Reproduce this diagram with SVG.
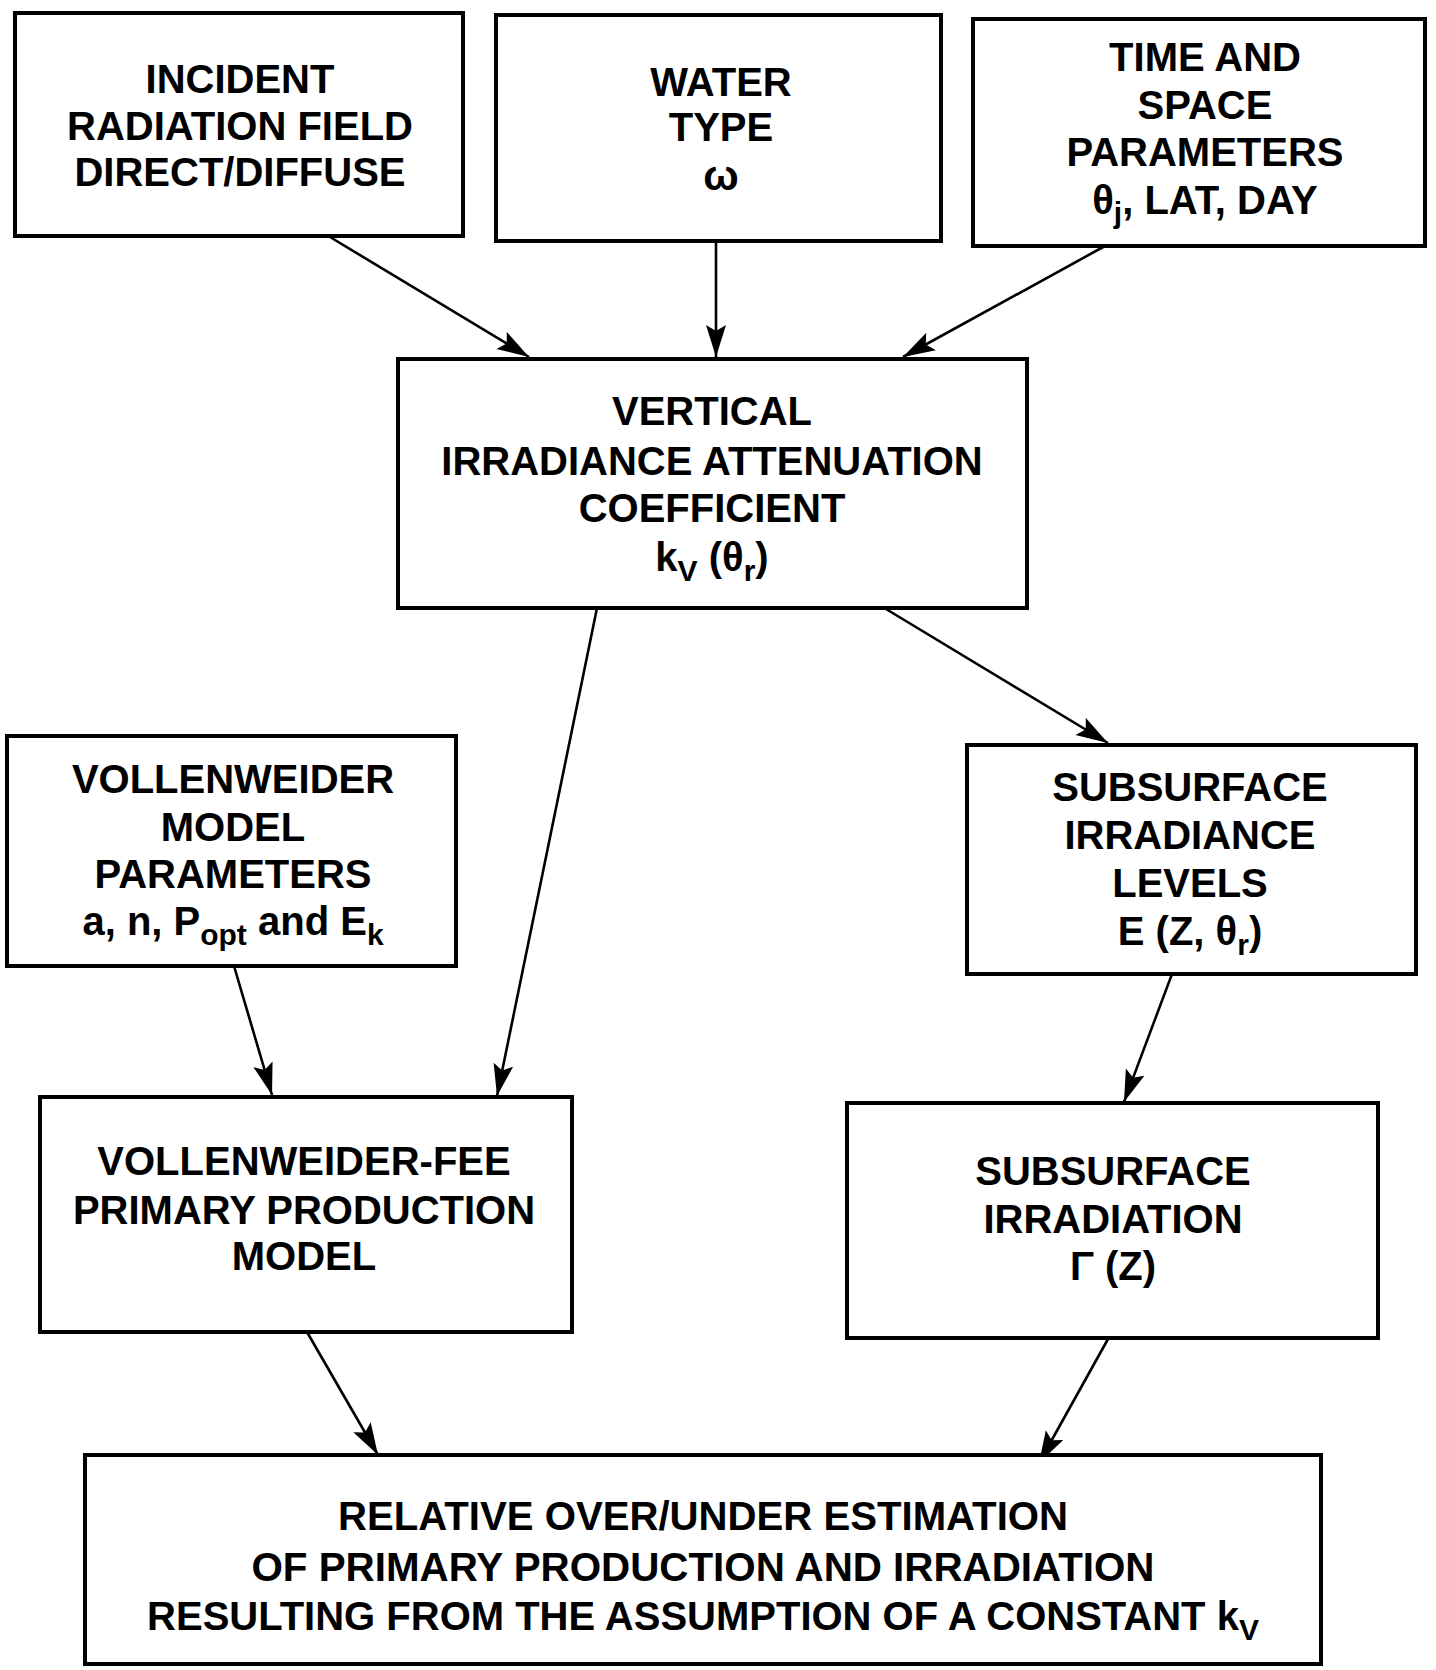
<svg xmlns="http://www.w3.org/2000/svg" width="1436" height="1670" viewBox="0 0 1436 1670">
<style>
.box{fill:#fff;stroke:#000;stroke-width:4}
.t{font-family:"Liberation Sans",Arial,sans-serif;font-weight:bold;font-size:40px;fill:#000;text-anchor:middle}
.c{stroke:#000;stroke-width:2.6;fill:none;marker-end:url(#ah)}
.s{font-size:30px}
</style>
<defs>
<marker id="ah" markerUnits="userSpaceOnUse" markerWidth="34" markerHeight="22" refX="32" refY="10" orient="auto">
<path d="M0,0 L32,10 L0,20 L6,10 Z" fill="#000"/>
</marker>
</defs>
<rect width="1436" height="1670" fill="#fff"/>
<g id="connectors">
<line class="c" x1="330" y1="237" x2="529" y2="357"/>
<line class="c" x1="716" y1="241" x2="716" y2="357"/>
<line class="c" x1="1105" y1="246" x2="903" y2="357"/>
<line class="c" x1="597" y1="608" x2="497" y2="1096"/>
<line class="c" x1="886" y1="609" x2="1108" y2="743"/>
<line class="c" x1="234" y1="966" x2="272" y2="1095"/>
<line class="c" x1="1172" y1="974" x2="1124" y2="1102"/>
<line class="c" x1="307" y1="1332" x2="378" y2="1455"/>
<line class="c" x1="1108" y1="1339" x2="1039" y2="1463"/>
</g>
<g id="incident">
<rect class="box" x="15" y="13" width="448" height="223"/>
<text class="t" x="240" y="93">INCIDENT</text>
<text class="t" x="240" y="140">RADIATION FIELD</text>
<text class="t" x="240" y="186">DIRECT/DIFFUSE</text>
</g>
<g id="water">
<rect class="box" x="496" y="15" width="445" height="226"/>
<text class="t" x="721" y="96">WATER</text>
<text class="t" x="721" y="141">TYPE</text>
<text class="t" x="721" y="190" style="font-size:42px">ω</text>
</g>
<g id="timespace">
<rect class="box" x="973" y="19" width="452" height="227"/>
<text class="t" x="1205" y="71">TIME AND</text>
<text class="t" x="1205" y="119">SPACE</text>
<text class="t" x="1205" y="166">PARAMETERS</text>
<text class="t" x="1205" y="214">θ<tspan class="s" dy="9">j</tspan><tspan dy="-9">, LAT, DAY</tspan></text>
</g>
<g id="vertical">
<rect class="box" x="398" y="359" width="629" height="249"/>
<text class="t" x="712" y="425">VERTICAL</text>
<text class="t" x="712" y="475">IRRADIANCE ATTENUATION</text>
<text class="t" x="712" y="522">COEFFICIENT</text>
<text class="t" x="712" y="571">k<tspan class="s" dy="10">V</tspan><tspan dy="-10"> (θ</tspan><tspan class="s" dy="10">r</tspan><tspan dy="-10">)</tspan></text>
</g>
<g id="vollenweider-params">
<rect class="box" x="7" y="736" width="449" height="230"/>
<text class="t" x="233" y="793">VOLLENWEIDER</text>
<text class="t" x="233" y="841">MODEL</text>
<text class="t" x="233" y="888">PARAMETERS</text>
<text class="t" x="233" y="935">a, n, P<tspan class="s" dy="10">opt</tspan><tspan dy="-10"> and E</tspan><tspan class="s" dy="10">k</tspan></text>
</g>
<g id="subsurface-levels">
<rect class="box" x="967" y="745" width="449" height="229"/>
<text class="t" x="1190" y="801">SUBSURFACE</text>
<text class="t" x="1190" y="849">IRRADIANCE</text>
<text class="t" x="1190" y="897">LEVELS</text>
<text class="t" x="1190" y="945">E (Z, θ<tspan class="s" dy="10">r</tspan><tspan dy="-10">)</tspan></text>
</g>
<g id="vollenweider-fee">
<rect class="box" x="40" y="1097" width="532" height="235"/>
<text class="t" x="304" y="1175">VOLLENWEIDER-FEE</text>
<text class="t" x="304" y="1224">PRIMARY PRODUCTION</text>
<text class="t" x="304" y="1270">MODEL</text>
</g>
<g id="subsurface-irradiation">
<rect class="box" x="847" y="1103" width="531" height="235"/>
<text class="t" x="1113" y="1185">SUBSURFACE</text>
<text class="t" x="1113" y="1233">IRRADIATION</text>
<text class="t" x="1113" y="1280">Γ (Z)</text>
</g>
<g id="relative">
<rect class="box" x="85" y="1455" width="1236" height="209"/>
<text class="t" x="703" y="1530" textLength="730" lengthAdjust="spacingAndGlyphs">RELATIVE OVER/UNDER ESTIMATION</text>
<text class="t" x="703" y="1581" textLength="903" lengthAdjust="spacingAndGlyphs">OF PRIMARY PRODUCTION AND IRRADIATION</text>
<text class="t" x="703" y="1630">RESULTING FROM THE ASSUMPTION OF A CONSTANT k<tspan class="s" dy="10">V</tspan></text>
</g>
</svg>
